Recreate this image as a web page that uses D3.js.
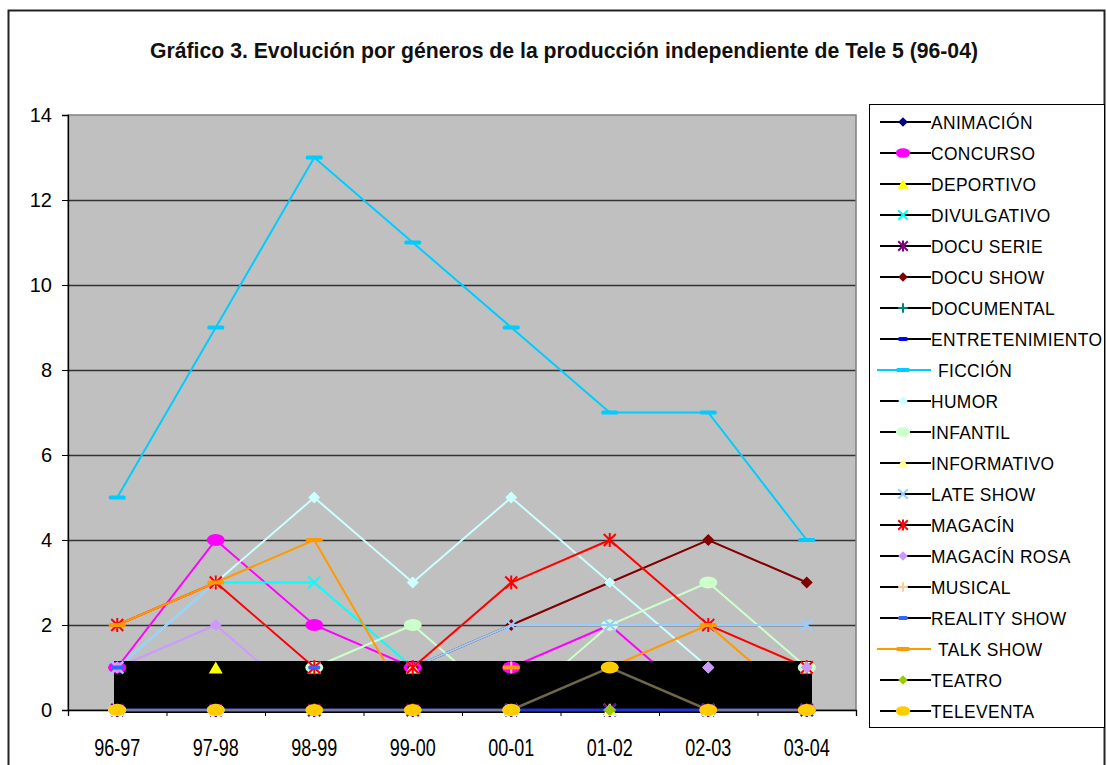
<!DOCTYPE html>
<html>
<head>
<meta charset="utf-8">
<script src="https://cdn.jsdelivr.net/npm/d3@7"></script>
<style>
  body { margin: 0; background: #fff; }
  text { font-family: "Liberation Sans", Arial, sans-serif; }
</style>
</head>
<body>
<div id="chart"></div>
<script>
var categories = ['96-97', '97-98', '98-99', '99-00', '00-01', '01-02', '02-03', '03-04'];
var genres = ['ANIMACIÓN', 'CONCURSO', 'DEPORTIVO', 'DIVULGATIVO', 'DOCU SERIE', 'DOCU SHOW',
  'DOCUMENTAL', 'ENTRETENIMIENTO', 'FICCIÓN', 'HUMOR', 'INFANTIL', 'INFORMATIVO', 'LATE SHOW',
  'MAGACÍN', 'MAGACÍN ROSA', 'MUSICAL', 'REALITY SHOW', 'TALK SHOW', 'TEATRO', 'TELEVENTA'];
var yTicks = [0, 2, 4, 6, 8, 10, 12, 14];

// valores
var animacion       = [0, 0, 0, 0, 0, 0, 0, 0];
var concurso        = [1, 4, 2, 1, 1, 2, 0, 0];
var deportivo       = [0, 1, 0, 0, 0, 0, 0, 0];
var divulgativo     = [1, 3, 3, 1, 0, 0, 0, 0];
var docuSerie       = [0, 0, 0, 0, 0, 0, 0, 0];
var docuShow        = [0, 0, 0, 1, 2, 3, 4, 3];
var documental      = [0, 0, 0, 0, 0, 0, 0, 0];
var entretenimiento = [0, 0, 0, 0, 0, 0, 0, 0];
var ficcion         = [5, 9, 13, 11, 9, 7, 7, 4];
var humor           = [1, 3, 5, 3, 5, 3, 1, 1];
var infantil        = [0, 0, 1, 2, 0, 2, 3, 1];
var informativo     = [0, 0, 1, 1, 0, 0, 0, 1];
var lateShow        = [1, 3, 1, 1, 2, 2, 2, 2];
var magacin         = [2, 3, 1, 1, 3, 4, 2, 1];
var magacinRosa     = [1, 2, 0, 0, 0, 0, 1, 1];
var musical         = [0, 0, 0, 0, 1, 0, 0, 0];
var realityShow     = [1, 0, 1, 0, 0, 0, 0, 0];
var talkShow        = [2, 3, 4, 0, 1, 1, 2, 0];
var teatro          = [0, 0, 0, 0, 0, 0, 0, 0];
var televenta       = [0, 0, 0, 0, 0, 1, 0, 0];

var seriesValues = [animacion, concurso, deportivo, divulgativo, docuSerie, docuShow, documental,
  entretenimiento, ficcion, humor, infantil, informativo, lateShow, magacin, magacinRosa, musical,
  realityShow, talkShow, teatro, televenta];

// estilos (colores de Excel)
var colors = ['#000080', '#FF00FF', '#FFFF00', '#00FFFF', '#800080', '#800000', '#008080', '#0000FF',
  '#00CCFF', '#CCFFFF', '#CCFFCC', '#FFFF99', '#99CCFF', '#FF0000', '#CC99FF', '#FFCC99',
  '#3366FF', '#FF9900', '#99CC00', '#FFCC00'];
var markers = ['diamond', 'ellipse', 'triangle', 'x', 'star', 'diamond', 'plus', 'dash',
  'longdash', 'diamond', 'ellipse', 'triangle', 'x', 'star', 'diamond', 'plus', 'dash',
  'longdash', 'diamond', 'ellipse'];

var series = genres.map(function(g, i) {
  return { name: g, values: seriesValues[i], color: colors[i], marker: markers[i] };
});

var width = 1107, height = 765;
var svg = d3.select('#chart').append('svg').attr('width', width).attr('height', height);

// marco exterior
svg.append('rect').attr('x', 8.5).attr('y', 10.5).attr('width', 1096).attr('height', 800)
  .attr('fill', '#fff').attr('stroke', '#222').attr('stroke-width', 2);

svg.append('text')
  .attr('x', 564).attr('y', 58)
  .attr('text-anchor', 'middle')
  .attr('font-weight', 'bold')
  .attr('font-size', 22.5)
  .attr('textLength', 828)
  .attr('lengthAdjust', 'spacingAndGlyphs')
  .attr('fill', '#111')
  .text('Gráfico 3. Evolución por géneros de la producción independiente de Tele 5 (96-04)');

var x = d3.scaleBand().domain(categories).range([68, 856]);
var y = d3.scaleLinear().domain([0, 14]).range([710, 115]);
var xb = d3.scaleLinear().domain([0, categories.length]).range([68, 856]);
var cx = function(i) { return x(categories[i]) + x.bandwidth() / 2; };

svg.append('rect')
  .attr('x', 68).attr('y', y(14)).attr('width', 788).attr('height', y(0) - y(14))
  .attr('fill', '#C0C0C0');

var grid = svg.append('g').attr('transform', 'translate(68,0)')
  .call(d3.axisLeft(y).tickValues(yTicks.slice(1, -1)).tickSize(-788).tickFormat(''));
grid.select('.domain').remove();
grid.selectAll('line').attr('stroke', '#333').attr('stroke-width', 1.4);

svg.append('rect')
  .attr('x', 68).attr('y', y(14)).attr('width', 788).attr('height', y(0) - y(14))
  .attr('fill', 'none').attr('stroke', '#808080').attr('stroke-width', 1.5);

var yAxis = svg.append('g').attr('transform', 'translate(68,0)')
  .call(d3.axisLeft(y).tickValues(yTicks).tickSize(6).tickPadding(10));
yAxis.selectAll('text').attr('font-size', 20).attr('fill', '#000')
  .style('font-family', '"Liberation Sans", Arial, sans-serif');
yAxis.select('.domain').attr('stroke', '#000').attr('stroke-width', 1.3);

var xTicks = svg.append('g').attr('transform', 'translate(0,' + y(0) + ')')
  .call(d3.axisBottom(xb).ticks(categories.length).tickSize(6).tickFormat(''));
xTicks.select('.domain').attr('stroke', '#000').attr('stroke-width', 1.3);

var xAxis = svg.append('g').attr('transform', 'translate(0,' + y(0) + ')')
  .call(d3.axisBottom(x).tickSize(0).tickPadding(29));
xAxis.select('.domain').remove();
xAxis.selectAll('text').attr('font-size', 24).attr('fill', '#000')
  .attr('textLength', 46).attr('lengthAdjust', 'spacingAndGlyphs')
  .style('font-family', '"Liberation Sans", Arial, sans-serif');

function drawMarker(g, type, color, px, py, k) {
  k = k || 1;
  if (type == 'diamond') {
    g.append('path').attr('d', 'M' + px + ',' + (py - 6 * k) + 'L' + (px + 6 * k) + ',' + py +
      'L' + px + ',' + (py + 6 * k) + 'L' + (px - 6 * k) + ',' + py + 'Z').attr('fill', color);
  } else if (type == 'ellipse') {
    g.append('ellipse').attr('cx', px).attr('cy', py).attr('rx', 9 * k).attr('ry', 6 * k).attr('fill', color);
  } else if (type == 'triangle') {
    g.append('path').attr('d', 'M' + px + ',' + (py - 6 * k) + 'L' + (px + 7 * k) + ',' + (py + 6 * k) +
      'L' + (px - 7 * k) + ',' + (py + 6 * k) + 'Z').attr('fill', color);
  } else if (type == 'x' || type == 'star') {
    var s = 6 * k;
    var d = 'M' + (px - s) + ',' + (py - s) + 'L' + (px + s) + ',' + (py + s) +
      'M' + (px + s) + ',' + (py - s) + 'L' + (px - s) + ',' + (py + s);
    if (type == 'star') d += 'M' + px + ',' + (py - 7 * k) + 'L' + px + ',' + (py + 7 * k);
    g.append('path').attr('d', d).attr('stroke', color).attr('stroke-width', 2).attr('fill', 'none');
  } else if (type == 'plus') {
    g.append('path').attr('d', 'M' + (px - 6 * k) + ',' + py + 'L' + (px + 6 * k) + ',' + py +
      'M' + px + ',' + (py - 6 * k) + 'L' + px + ',' + (py + 6 * k))
      .attr('stroke', color).attr('stroke-width', 2).attr('fill', 'none');
  } else if (type == 'dash' || type == 'longdash') {
    var w = type == 'dash' ? 12 * k : 17 * k;
    g.append('rect').attr('x', px - w / 2).attr('y', py - 2).attr('width', w).attr('height', 4)
      .attr('rx', 1.5).attr('fill', color);
  }
}

var line = d3.line()
  .x(function(d, i) { return cx(i); })
  .y(function(d) { return y(d); });

var plot = svg.append('g');
series.forEach(function(s) {
  var g = plot.append('g');
  g.append('path').attr('d', line(s.values))
    .attr('fill', 'none').attr('stroke', s.color).attr('stroke-width', 2);
  s.values.forEach(function(v, i) { drawMarker(g, s.marker, s.color, cx(i), y(v)); });
});

// recuadro negro que tapa la parte baja
svg.append('rect').attr('x', 114).attr('y', 661).attr('width', 698).attr('height', 52).attr('fill', '#000');

var over = svg.append('g');
over.append('path').attr('d', line(entretenimiento))
  .attr('fill', 'none').attr('stroke', '#2233cc').attr('stroke-width', 3);
over.append('path').attr('d', line(televenta))
  .attr('fill', 'none').attr('stroke', '#b8ac78').attr('stroke-width', 2.5).attr('stroke-opacity', 0.6);
series.forEach(function(s) {
  s.values.forEach(function(v, i) {
    if (v <= 1) drawMarker(over, s.marker, s.color, cx(i), y(v));
  });
});

// leyenda
svg.append('rect').attr('x', 869.5).attr('y', 104.5).attr('width', 235).attr('height', 623)
  .attr('fill', '#fff').attr('stroke', '#000').attr('stroke-width', 1);

var legend = svg.append('g');
series.forEach(function(s, i) {
  var ly = 122 + i * 31;
  var colored = s.marker == 'longdash';
  var tx = colored ? 938 : 931;
  var g = legend.append('g');
  g.append('line').attr('x1', colored ? 877 : 880).attr('x2', 931).attr('y1', ly).attr('y2', ly)
    .attr('stroke', colored ? s.color : '#000').attr('stroke-width', 2);
  drawMarker(g, s.marker, s.color, 903, ly, 0.8);
  g.append('text')
    .attr('transform', 'translate(' + tx + ',' + (ly + 7) + ') scale(0.94,1)')
    .attr('font-size', 18.5).attr('letter-spacing', 0.4).attr('fill', '#000')
    .text(s.name);
});
</script>
</body>
</html>
